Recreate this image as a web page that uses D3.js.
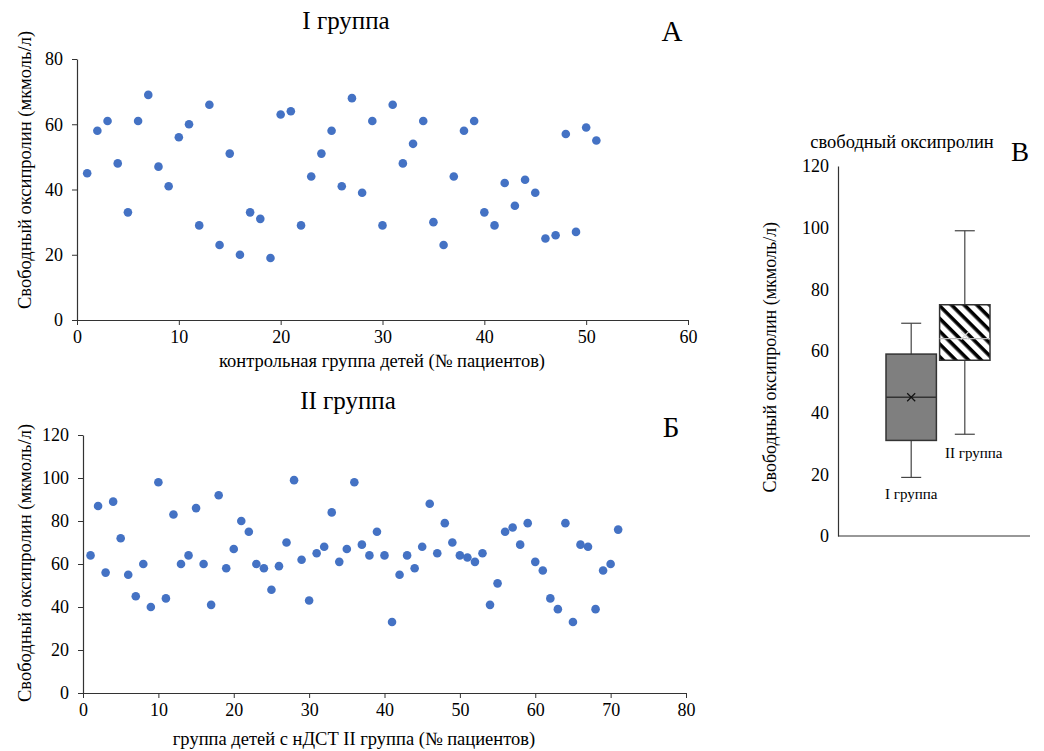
<!DOCTYPE html>
<html>
<head>
<meta charset="utf-8">
<script src="https://cdn.jsdelivr.net/npm/d3@7"></script>
<style>
  body { margin: 0; background: #fff; }
</style>
</head>
<body>
<div id="chart"></div>
<script>
// I группа (контрольная), свободный оксипролин по пациентам 1..51
const groupOne = [45, 58, 61, 48, 33, 61, 69, 47, 41, 56, 60, 29, 66, 23, 51, 20, 33, 31, 19, 63,
  64, 29, 44, 51, 58, 41, 68, 39, 61, 29, 66, 48, 54, 61, 30, 23, 44, 58, 61, 33,
  29, 42, 35, 43, 39, 25, 26, 57, 27, 59, 55];
// II группа (нДСТ), пациенты 1..71
const groupTwo = [64, 87, 56, 89, 72, 55, 45, 60, 40, 98, 44, 83, 60, 64, 86, 60, 41, 92, 58, 67,
  80, 75, 60, 58, 48, 59, 70, 99, 62, 43, 65, 68, 84, 61, 67, 98, 69, 64, 75, 64,
  33, 55, 64, 58, 68, 88, 65, 79, 70, 64, 63, 61, 65, 41, 51, 75, 77, 69, 79, 61,
  57, 44, 39, 79, 33, 69, 68, 39, 57, 60, 76];

const ticksA = { x: [0, 10, 20, 30, 40, 50, 60], y: [0, 20, 40, 60, 80] };
const ticksB = { x: [0, 10, 20, 30, 40, 50, 60, 70, 80], y: [0, 20, 40, 60, 80, 100, 120] };
const ticksBox = [0, 20, 40, 60, 80, 100, 120];

// box plot summaries: min, q1, median, q3, max, mean
const boxGroups = ["I группа", "II группа"];
const boxStats = [
  { min: 19, q1: 31, median: 45, q3: 59, max: 69, mean: 45 },
  { min: 33, q1: 57, median: 64, q3: 75, max: 99, mean: 65 }
];

const yLabel = "Свободный оксипролин (мкмоль/л)";
const dotColor = "#4472c4";
const axisColor = "#333";
const serif = "Liberation Serif, Times New Roman, Times, DejaVu Serif, serif";

const svg = d3.select("#chart").append("svg")
  .attr("width", 1044).attr("height", 751)
  .attr("font-family", serif);

const defs = svg.append("defs");
defs.append("pattern")
  .attr("id", "hatch")
  .attr("patternUnits", "userSpaceOnUse")
  .attr("width", 9).attr("height", 9)
  .attr("patternTransform", "rotate(45)")
  .call(p => {
    p.append("rect").attr("width", 9).attr("height", 9).attr("fill", "#fff");
    p.append("rect").attr("width", 9).attr("height", 3.6).attr("fill", "#000");
  });

function styleAxis(g) {
  g.attr("font-family", serif).attr("font-size", 18);
  g.select(".domain").attr("stroke", axisColor).attr("stroke-width", 1.2);
  g.selectAll(".tick line").attr("stroke", axisColor);
  g.selectAll(".tick text").attr("fill", "#000");
}

function addText(x, y, str, size, anchor) {
  return svg.append("text")
    .attr("x", x).attr("y", y)
    .attr("text-anchor", anchor || "middle")
    .attr("font-family", serif)
    .attr("font-size", size)
    .attr("fill", "#000")
    .text(str);
}

function scatter(opt) {
  const x = d3.scaleLinear().domain(opt.xDomain).range(opt.xRange);
  const y = d3.scaleLinear().domain(opt.yDomain).range(opt.yRange);

  svg.append("g")
    .attr("transform", `translate(0,${opt.yRange[0]})`)
    .call(d3.axisBottom(x).tickValues(opt.ticks.x).tickSize(5).tickSizeOuter(0).tickPadding(5))
    .call(styleAxis);

  svg.append("g")
    .attr("transform", `translate(${opt.xRange[0]},0)`)
    .call(d3.axisLeft(y).tickValues(opt.ticks.y).tickSize(5).tickSizeOuter(0).tickPadding(9))
    .call(styleAxis);

  svg.append("g")
    .selectAll("circle")
    .data(opt.data)
    .enter()
    .append("circle")
    .attr("cx", (d, i) => x(i + 1))
    .attr("cy", d => y(d))
    .attr("r", 4.3)
    .attr("fill", dotColor);

  addText(opt.titleX, opt.titleY, opt.title, 25);
  addText(opt.letterX, opt.letterY, opt.letter, 29);
  addText(opt.xLabelX, opt.xLabelY, opt.xLabel, 18.5);
  addText(0, 0, yLabel, 18.5)
    .attr("transform", `translate(31,${opt.yLabelMid}) rotate(-90)`);
}

scatter({
  data: groupOne,
  xDomain: [0, 60], xRange: [77, 688],
  yDomain: [0, 80], yRange: [320, 59],
  ticks: ticksA,
  title: "I группа", titleX: 346, titleY: 29,
  letter: "А", letterX: 672, letterY: 41,
  xLabel: "контрольная группа детей (№ пациентов)", xLabelX: 382, xLabelY: 367,
  yLabelMid: 170
});

scatter({
  data: groupTwo,
  xDomain: [0, 80], xRange: [83, 686],
  yDomain: [0, 120], yRange: [693, 435],
  ticks: ticksB,
  title: "II группа", titleX: 348, titleY: 409,
  letter: "Б", letterX: 671, letterY: 437,
  xLabel: "группа детей с нДСТ II группа (№ пациентов)", xLabelX: 354, xLabelY: 745,
  yLabelMid: 563
});

// box plot В
const by = d3.scaleLinear().domain([0, 120]).range([536, 166]);
const bx = d3.scaleBand().domain(boxGroups).range([886, 990]).paddingInner(0.06);

svg.append("g")
  .attr("transform", "translate(838,0)")
  .call(d3.axisLeft(by).tickValues(ticksBox).tickSize(0).tickPadding(9))
  .call(styleAxis);

svg.append("line")
  .attr("x1", 838).attr("x2", 1030)
  .attr("y1", by(0)).attr("y2", by(0))
  .attr("stroke", axisColor).attr("stroke-width", 1.2);

const boxes = svg.append("g")
  .selectAll("g")
  .data(boxStats)
  .enter()
  .append("g");

const mid = i => bx(boxGroups[i]) + bx.bandwidth() / 2;

boxes.append("line")
  .attr("x1", (d, i) => mid(i)).attr("x2", (d, i) => mid(i))
  .attr("y1", d => by(d.max)).attr("y2", d => by(d.min))
  .attr("stroke", "#444").attr("stroke-width", 1.2);

["max", "min"].forEach(k => {
  boxes.append("line")
    .attr("x1", (d, i) => mid(i) - 10)
    .attr("x2", (d, i) => mid(i) + 10)
    .attr("y1", d => by(d[k])).attr("y2", d => by(d[k]))
    .attr("stroke", "#444").attr("stroke-width", 1.2);
});

boxes.append("rect")
  .attr("x", (d, i) => bx(boxGroups[i]))
  .attr("width", bx.bandwidth())
  .attr("y", d => by(d.q3))
  .attr("height", d => by(d.q1) - by(d.q3))
  .attr("fill", (d, i) => i === 0 ? "#7f7f7f" : "url(#hatch)")
  .attr("stroke", "#333").attr("stroke-width", 1.5);

boxes.append("line")
  .attr("x1", (d, i) => bx(boxGroups[i]))
  .attr("x2", (d, i) => bx(boxGroups[i]) + bx.bandwidth())
  .attr("y1", d => by(d.median)).attr("y2", d => by(d.median))
  .attr("stroke", (d, i) => i === 0 ? "#333" : "#bbb").attr("stroke-width", 1.3);

boxes.append("path")
  .attr("d", (d, i) => {
    const cx = mid(i), cy = by(d.mean), s = 4;
    return `M${cx - s},${cy - s}L${cx + s},${cy + s}M${cx - s},${cy + s}L${cx + s},${cy - s}`;
  })
  .attr("stroke", (d, i) => i === 0 ? "#111" : "#ddd").attr("stroke-width", 1.2);

addText(mid(0), by(boxStats[0].min) + 22, boxGroups[0], 15);
addText(mid(1) + 9, by(boxStats[1].min) + 24, boxGroups[1], 15);
addText(902, 148, "свободный оксипролин", 18.5);
addText(1020, 161, "В", 27);
addText(0, 0, yLabel, 18)
  .attr("transform", `translate(776,${by(58)}) rotate(-90)`);
</script>
</body>
</html>
